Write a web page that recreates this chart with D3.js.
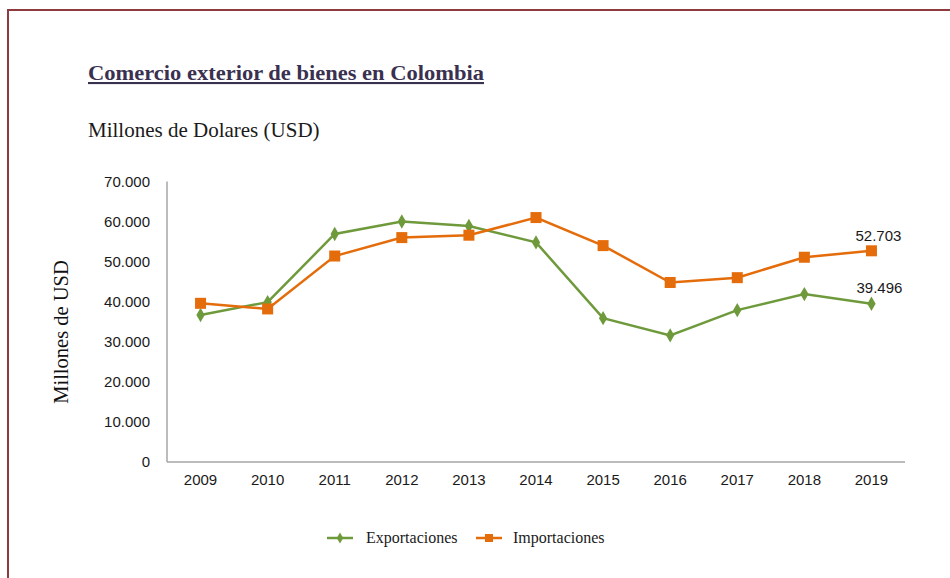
<!DOCTYPE html>
<html>
<head>
<meta charset="utf-8">
<style>
  body { margin: 0; background: #fff; }
  svg { display: block; }
</style>
</head>
<body>
<div id="chart"></div>
<script src="https://cdn.jsdelivr.net/npm/d3@7"></script>
<script>
// data (millones de USD)
var years = ["2009", "2010", "2011", "2012", "2013", "2014", "2015", "2016", "2017", "2018", "2019"];
var exportaciones = [36700, 39900, 56900, 60000, 58900, 54800, 35900, 31600, 37900, 41900, 39496];
var importaciones = [39600, 38200, 51400, 56000, 56600, 61000, 54000, 44800, 46000, 51100, 52703];
var yTicks = [0, 10000, 20000, 30000, 40000, 50000, 60000, 70000];

var width = 950, height = 578;
var green = "#6f9a3c", orange = "#e46c0a";

var svg = d3.select("#chart").append("svg")
    .attr("width", width)
    .attr("height", height);

// frame
svg.append("rect")
    .attr("x", 8).attr("y", 10)
    .attr("width", 960).attr("height", 600)
    .attr("fill", "none")
    .attr("stroke", "#8e3b40")
    .attr("stroke-width", 2);

// titles
svg.append("text")
    .attr("x", 88).attr("y", 80)
    .attr("font-family", "Liberation Serif, serif")
    .attr("font-weight", "bold")
    .attr("font-size", 21)
    .attr("textLength", 396)
    .attr("lengthAdjust", "spacingAndGlyphs")
    .attr("fill", "#3a3150")
    .attr("text-decoration", "underline")
    .text("Comercio exterior de bienes en Colombia");

svg.append("text")
    .attr("x", 88).attr("y", 137)
    .attr("font-family", "Liberation Serif, serif")
    .attr("font-size", 21)
    .attr("fill", "#1a1a1a")
    .text("Millones de Dolares (USD)");

var x = d3.scaleBand().domain(years).range([167, 905]);
var y = d3.scaleLinear().domain([0, 70000]).range([462, 181.5]);

function cx(i) { return x(years[i]) + x.bandwidth() / 2; }

// axes lines
svg.append("line")
    .attr("x1", 167).attr("x2", 167)
    .attr("y1", y(70000)).attr("y2", y(0))
    .attr("stroke", "#a6a6a6").attr("stroke-width", 1.5);
svg.append("line")
    .attr("x1", 167).attr("x2", 905)
    .attr("y1", y(0)).attr("y2", y(0))
    .attr("stroke", "#a6a6a6").attr("stroke-width", 1.5);

// y tick labels
var fmt = function (d) { return d === 0 ? "0" : d3.format(",")(d).replace(/,/g, "."); };
svg.selectAll(".ytick")
    .data(yTicks)
    .enter().append("text")
    .attr("class", "ytick")
    .attr("x", 150)
    .attr("y", function (d) { return y(d) + 5; })
    .attr("text-anchor", "end")
    .attr("font-family", "Liberation Sans, Arial, sans-serif")
    .attr("font-size", 15)
    .attr("fill", "#1a1a1a")
    .text(fmt);

// x tick labels
svg.selectAll(".xtick")
    .data(years)
    .enter().append("text")
    .attr("class", "xtick")
    .attr("x", function (d) { return x(d) + x.bandwidth() / 2; })
    .attr("y", 485)
    .attr("text-anchor", "middle")
    .attr("font-family", "Liberation Sans, Arial, sans-serif")
    .attr("font-size", 15)
    .attr("fill", "#1a1a1a")
    .text(function (d) { return d; });

// y axis title
svg.append("text")
    .attr("transform", "translate(68," + 332 + ") rotate(-90)")
    .attr("text-anchor", "middle")
    .attr("font-family", "Liberation Serif, serif")
    .attr("font-size", 20.5)
    .attr("fill", "#111")
    .text("Millones de USD");

var line = d3.line()
    .x(function (d, i) { return cx(i); })
    .y(function (d) { return y(d); });

// exportaciones
svg.append("path")
    .datum(exportaciones)
    .attr("d", line)
    .attr("fill", "none")
    .attr("stroke", green)
    .attr("stroke-width", 2.5);
svg.selectAll(".exp")
    .data(exportaciones)
    .enter().append("path")
    .attr("class", "exp")
    .attr("d", d3.symbol().type(d3.symbolDiamond).size(60))
    .attr("transform", function (d, i) { return "translate(" + cx(i) + "," + y(d) + ")"; })
    .attr("fill", green);

// importaciones
svg.append("path")
    .datum(importaciones)
    .attr("d", line)
    .attr("fill", "none")
    .attr("stroke", orange)
    .attr("stroke-width", 2.5);
svg.selectAll(".imp")
    .data(importaciones)
    .enter().append("rect")
    .attr("class", "imp")
    .attr("x", function (d, i) { return cx(i) - 5.5; })
    .attr("y", function (d) { return y(d) - 5.5; })
    .attr("width", 11).attr("height", 11)
    .attr("fill", orange);

// end value labels
var last = years.length - 1;
svg.append("text")
    .attr("x", cx(last) + 7)
    .attr("y", y(importaciones[last]) - 10)
    .attr("text-anchor", "middle")
    .attr("font-family", "Liberation Sans, Arial, sans-serif")
    .attr("font-size", 15)
    .attr("fill", "#1a1a1a")
    .text(fmt(importaciones[last]));
svg.append("text")
    .attr("x", cx(last) + 8)
    .attr("y", y(exportaciones[last]) - 11)
    .attr("text-anchor", "middle")
    .attr("font-family", "Liberation Sans, Arial, sans-serif")
    .attr("font-size", 15)
    .attr("fill", "#1a1a1a")
    .text(fmt(exportaciones[last]));

// legend
var legend = [
    { name: "Exportaciones", color: green, x: 327, shape: "diamond" },
    { name: "Importaciones", color: orange, x: 476, shape: "square" }
];
var lg = svg.selectAll(".legend")
    .data(legend)
    .enter().append("g")
    .attr("class", "legend")
    .attr("transform", function (d) { return "translate(" + d.x + ",538)"; });
lg.append("line")
    .attr("x1", 0).attr("x2", 26)
    .attr("stroke", function (d) { return d.color; })
    .attr("stroke-width", 2.5);
lg.append("path")
    .attr("transform", "translate(13,0)")
    .attr("d", function (d) {
        return d3.symbol().type(d.shape === "diamond" ? d3.symbolDiamond : d3.symbolSquare)
            .size(d.shape === "diamond" ? 36 : 64)();
    })
    .attr("fill", function (d) { return d.color; });
lg.append("text")
    .attr("x", function (d) { return d.shape === "diamond" ? 39 : 37; })
    .attr("y", 5)
    .attr("font-family", "Liberation Serif, serif")
    .attr("font-size", 16)
    .attr("fill", "#1a1a1a")
    .text(function (d) { return d.name; });
</script>
</body>
</html>
